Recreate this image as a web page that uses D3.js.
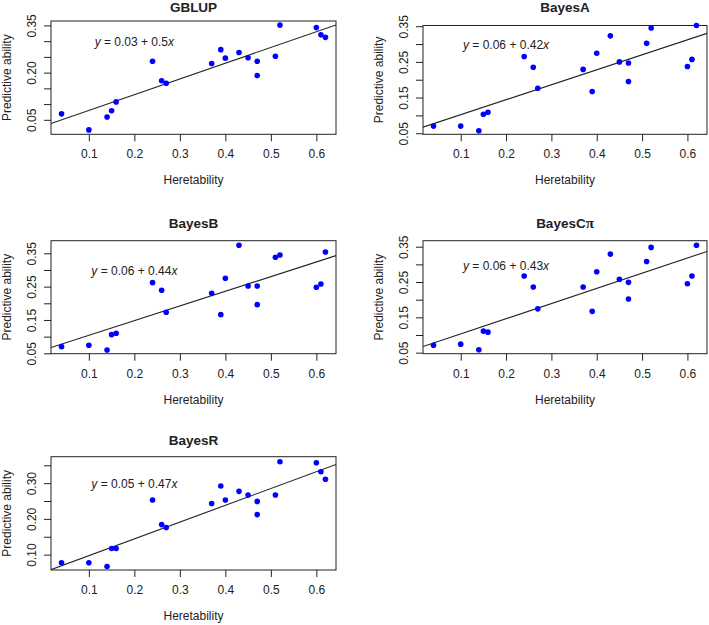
<!DOCTYPE html>
<html>
<head>
<meta charset="utf-8">
<script src="https://cdn.jsdelivr.net/npm/d3@7"></script>
<style>
  html, body { margin: 0; padding: 0; background: #fff; }
  svg { display: block; }
  text { font-family: "Liberation Sans", Arial, sans-serif; fill: #222; }
</style>
</head>
<body>
<svg id="chart" width="709" height="625"></svg>
<script>
// ---------------- data ----------------
const heritability = [0.04, 0.10, 0.14, 0.15, 0.16, 0.24, 0.26, 0.27, 0.37, 0.39, 0.40, 0.43, 0.45, 0.47, 0.47, 0.51, 0.52, 0.60, 0.61, 0.62];
const gblup   = [0.069, 0.018, 0.059, 0.079, 0.107, 0.236, 0.174, 0.166, 0.229, 0.273, 0.246, 0.264, 0.247, 0.236, 0.191, 0.252, 0.351, 0.343, 0.320, 0.312];
const bayesA  = [0.070, 0.070, 0.057, 0.103, 0.109, 0.265, 0.235, 0.176, 0.229, 0.167, 0.274, 0.323, 0.250, 0.247, 0.195, 0.302, 0.345, 0.237, 0.257, 0.352];
const bayesB  = [0.070, 0.074, 0.060, 0.106, 0.110, 0.262, 0.239, 0.173, 0.230, 0.166, 0.275, 0.374, 0.252, 0.252, 0.196, 0.338, 0.345, 0.248, 0.258, 0.354];
const bayesCpi= [0.071, 0.074, 0.058, 0.111, 0.108, 0.267, 0.236, 0.174, 0.236, 0.167, 0.279, 0.329, 0.258, 0.249, 0.202, 0.308, 0.348, 0.245, 0.267, 0.354];
const bayesR  = [0.077, 0.077, 0.067, 0.117, 0.117, 0.253, 0.184, 0.176, 0.243, 0.292, 0.253, 0.277, 0.267, 0.249, 0.212, 0.267, 0.360, 0.357, 0.332, 0.311];

const methods    = ["GBLUP", "BayesA", "BayesB", "BayesC\u03C0", "BayesR"];
const seriesList = [gblup, bayesA, bayesB, bayesCpi, bayesR];
const intercepts = [0.03, 0.06, 0.06, 0.06, 0.05];
const slopes     = [0.5, 0.42, 0.44, 0.43, 0.47];
const eqLabels   = ["0.03", "0.06", "0.06", "0.06", "0.05"];
const eqSlopes   = ["0.5", "0.42", "0.44", "0.43", "0.47"];

const xTicks = [0.1, 0.2, 0.3, 0.4, 0.5, 0.6];
const yTicksList = [
  [0.05, 0.10, 0.15, 0.20, 0.25, 0.30, 0.35],
  [0.05, 0.10, 0.15, 0.20, 0.25, 0.30, 0.35],
  [0.05, 0.10, 0.15, 0.20, 0.25, 0.30, 0.35],
  [0.05, 0.10, 0.15, 0.20, 0.25, 0.30, 0.35],
  [0.10, 0.15, 0.20, 0.25, 0.30, 0.35]
];
const yTickLabelsList = [
  [0.05, 0.20, 0.35],
  [0.05, 0.15, 0.25, 0.35],
  [0.05, 0.15, 0.25, 0.35],
  [0.05, 0.15, 0.25, 0.35],
  [0.10, 0.20, 0.30]
];
const xLabel = "Heretability";
const yLabel = "Predictive ability";

// ---------------- layout ----------------
const xDomain = [0.0168, 0.6432];
const layout = [
  { x0: 51,  x1: 336, y0: 21.0,  y1: 134.3, yDom: [0.004, 0.364], titleY: 11.5 },
  { x0: 423, x1: 707, y0: 25.5,  y1: 134.3, yDom: [0.047, 0.352], titleY: 11.5 },
  { x0: 51,  x1: 336, y0: 240.7, y1: 353.7, yDom: [0.0488, 0.3878], titleY: 228 },
  { x0: 423, x1: 707, y0: 240.7, y1: 353.7, yDom: [0.047, 0.367], titleY: 228 },
  { x0: 51,  x1: 336, y0: 456.7, y1: 570.0, yDom: [0.057, 0.374], titleY: 445 }
];
const eqPos = [0.2, 0.297];
const ink = "#222";

const svg = d3.select("#chart");
const defs = svg.append("defs");

methods.forEach((name, i) => {
  const L = layout[i];
  const vals = seriesList[i];
  const x = d3.scaleLinear().domain(xDomain).range([L.x0, L.x1]);
  const y = d3.scaleLinear().domain(L.yDom).range([L.y1, L.y0]);
  const g = svg.append("g");

  defs.append("clipPath").attr("id", "clip" + i)
    .append("rect").attr("x", L.x0).attr("y", L.y0)
    .attr("width", L.x1 - L.x0).attr("height", L.y1 - L.y0);

  // title
  const t = g.append("text")
    .attr("x", (L.x0 + L.x1) / 2).attr("y", L.titleY)
    .attr("text-anchor", "middle")
    .attr("font-size", 13.5).attr("font-weight", "bold");
  if (name.endsWith("\u03C0")) {
    t.append("tspan").text(name.slice(0, -1));
    t.append("tspan").attr("font-family", "'Liberation Serif', serif").attr("font-size", 15).text("\u03C0");
  } else {
    t.text(name);
  }

  // x axis
  const xa = g.append("g").attr("transform", `translate(0,${L.y1})`)
    .call(d3.axisBottom(x).tickValues(xTicks).tickSize(7).tickSizeOuter(0).tickFormat(d3.format(".1f")));
  xa.select(".domain").remove();
  xa.selectAll(".tick line").attr("stroke", ink);
  xa.selectAll(".tick text").attr("y", 24).attr("dy", 0)
    .attr("font-size", 12).attr("font-family", "'Liberation Sans', Arial, sans-serif").attr("fill", ink);

  // y axis
  const labelSet = yTickLabelsList[i].map(v => v.toFixed(2));
  const ya = g.append("g").attr("transform", `translate(${L.x0},0)`)
    .call(d3.axisLeft(y).tickValues(yTicksList[i]).tickSize(7).tickSizeOuter(0)
      .tickFormat(d => labelSet.includes(d.toFixed(2)) ? d.toFixed(2) : ""));
  ya.select(".domain").remove();
  ya.selectAll(".tick line").attr("stroke", ink);
  ya.selectAll(".tick text")
    .attr("transform", "rotate(-90)")
    .attr("x", 0).attr("y", -15).attr("dy", 0)
    .attr("text-anchor", "middle")
    .attr("font-size", 12).attr("font-family", "'Liberation Sans', Arial, sans-serif").attr("fill", ink);

  // box
  g.append("rect").attr("x", L.x0).attr("y", L.y0)
    .attr("width", L.x1 - L.x0).attr("height", L.y1 - L.y0)
    .attr("fill", "none").attr("stroke", ink).attr("stroke-width", 1);

  // axis titles
  g.append("text")
    .attr("x", (L.x0 + L.x1) / 2).attr("y", L.y1 + 50)
    .attr("text-anchor", "middle").attr("font-size", 12).text(xLabel);
  g.append("text")
    .attr("transform", `translate(${L.x0 - 40.5},${(L.y0 + L.y1) / 2}) rotate(-90)`)
    .attr("text-anchor", "middle").attr("font-size", 12).text(yLabel);

  // regression line
  const a = intercepts[i], b = slopes[i];
  g.append("line")
    .attr("clip-path", `url(#clip${i})`)
    .attr("x1", x(xDomain[0])).attr("y1", y(a + b * xDomain[0]))
    .attr("x2", x(xDomain[1])).attr("y2", y(a + b * xDomain[1]))
    .attr("stroke", ink).attr("stroke-width", 1.1);

  // points
  g.selectAll("circle.pt").data(heritability.map((h, k) => [h, vals[k]]))
    .join("circle").attr("class", "pt")
    .attr("cx", d => x(d[0])).attr("cy", d => y(d[1]))
    .attr("r", 2.8).attr("fill", "#0000ff");

  // equation
  const eq = g.append("text")
    .attr("x", x(eqPos[0])).attr("y", y(eqPos[1])).attr("dy", "0.35em")
    .attr("text-anchor", "middle").attr("font-size", 12);
  eq.append("tspan").attr("font-style", "italic").text("y");
  eq.append("tspan").text(` = ${eqLabels[i]} + ${eqSlopes[i]}`);
  eq.append("tspan").attr("font-style", "italic").text("x");
});
</script>
</body>
</html>
